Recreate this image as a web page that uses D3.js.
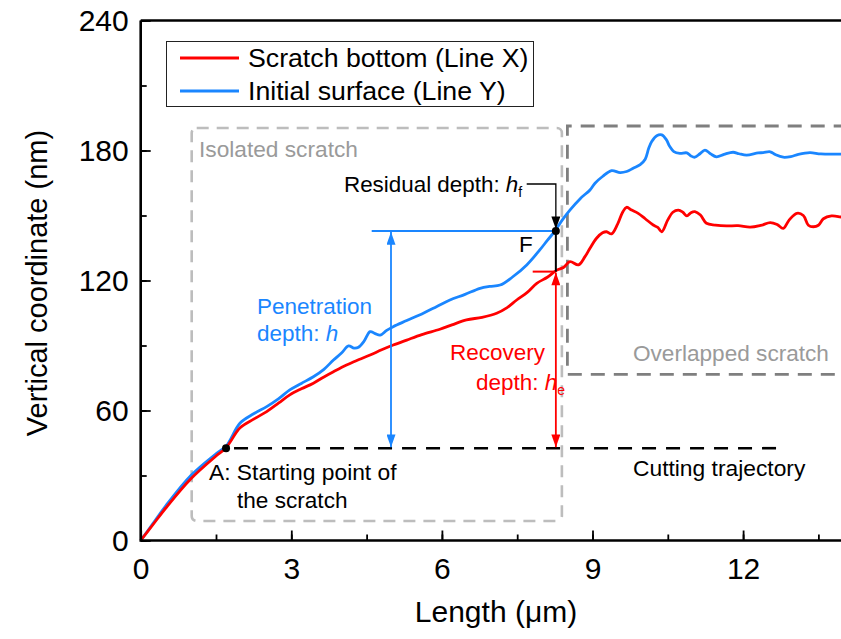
<!DOCTYPE html>
<html><head><meta charset="utf-8">
<script src="https://cdn.jsdelivr.net/npm/d3@7"></script>
<style>body{margin:0;background:#fff}svg{display:block;font-family:Arial,"Liberation Sans",sans-serif}</style>
</head><body><svg id="c" width="841" height="639"></svg>
<script>
// ---- data ----
const xTicks = [0, 3, 6, 9, 12];
const yTicks = [0, 60, 120, 180, 240];
const seriesNames = ["Scratch bottom (Line X)", "Initial surface (Line Y)"];
const seriesColors = ["#ff0000", "#1a86ff"];
const lineXx = [0,0.25,0.5,1.0,1.5,1.7,1.98,2.25,2.51,2.75,2.97,3.2,3.44,3.65,3.84,4.1,4.35,4.57,4.8,5.03,5.3,5.6,5.96,6.2,6.49,6.8,7.09,7.3,7.49,7.7,7.89,8.1,8.29,8.42,8.55,8.72,8.85,8.95,9.08,9.2,9.28,9.38,9.5,9.6,9.68,9.78,9.91,10.05,10.21,10.3,10.38,10.5,10.6,10.71,10.8,10.88,10.96,11.04,11.15,11.27,11.45,11.67,11.9,12.14,12.35,12.54,12.68,12.8,12.92,13.07,13.2,13.3,13.4,13.5,13.6,13.76,13.93,14.1];
const lineXy = [0,7.5,15,28.5,39,42.8,52,56,59.5,63.5,67.2,70,72.6,75.5,77.9,81,83.5,85.6,88,90.2,92.5,95,97.5,99.5,101.8,103,104.9,107.5,111,114.5,118.7,121.5,124.8,126,128.7,127.2,131,134.9,139.5,142,142.5,141.5,146,151.5,153.8,152.5,151,148.5,145.6,144.5,142.5,148,151.5,152.5,151.5,149.8,151.3,151.8,150.2,146.4,145.6,145.2,145.3,144.6,145.4,146.7,145.8,144.1,148,151,150,145.5,144.8,145.5,148.5,149.8,149.4,148.5];
const lineYx = [0,0.25,0.5,1.0,1.5,1.7,1.98,2.25,2.51,2.75,2.97,3.2,3.44,3.65,3.84,4.0,4.14,4.25,4.34,4.45,4.57,4.67,4.77,4.9,5.03,5.3,5.63,5.9,6.16,6.45,6.76,6.95,7.16,7.4,7.69,7.95,8.1,8.25,8.4,8.55,8.76,8.95,9.05,9.2,9.38,9.55,9.68,9.81,9.95,10.05,10.12,10.18,10.28,10.38,10.47,10.54,10.62,10.74,10.88,10.96,11.04,11.14,11.24,11.35,11.47,11.62,11.8,11.92,12.07,12.3,12.4,12.54,12.65,12.8,12.95,13.1,13.33,13.55,13.93,14.1];
const lineYy = [0,8,16,30,40,43.5,54.2,58.5,61.8,65.5,69.5,72.5,75.6,79,83.3,86.5,89.8,88.8,89.2,92,96.4,95.5,94.8,97,98.7,101.5,104.9,108,111,113.5,116.4,117.3,117.9,121.5,127.2,134.1,138.5,142.8,148,152.5,157.9,161.8,164.9,168,170.7,169.8,170.3,171.8,173.5,176,181,184.1,186.8,187.2,185,181.8,179.5,178.7,178.9,177.5,176.9,178.5,180.2,178.5,177.1,178.2,179.2,178.5,177.9,178.9,179,179.4,178,176.9,177.2,178.2,179,178.4,178.3,178.2];
// annotation anchors (data units)
const pointA = [1.7, 42.6];
const pointF = [8.27, 142.8];
const recoveryLevel = 124.1;
const cutEndX = 12.69;

const svg = d3.select("#c");
const x = d3.scaleLinear().domain([0, 14]).range([140.7, 843.5]);
const y = d3.scaleLinear().domain([0, 240]).range([540.5, 20.5]);
const FONT = "Arial, 'Liberation Sans', sans-serif";

// arrowhead markers
const defs = svg.append("defs");
[["mb", seriesColors[1]], ["mr", seriesColors[0]], ["mk", "#000"]].forEach(([id, c]) => {
  defs.append("marker").attr("id", id).attr("viewBox","0 0 14 10").attr("refX",14).attr("refY",5)
    .attr("markerWidth",15).attr("markerHeight",9).attr("markerUnits","userSpaceOnUse").attr("orient","auto-start-reverse")
    .append("path").attr("d","M0,0 L14,5 L0,10 Z").attr("fill",c);
});

// boxes
svg.append("rect").attr("x", x(1.016)).attr("y", y(190.4)).attr("width", x(8.39)-x(1.016)).attr("height", y(9)-y(190.4))
  .attr("rx",5).attr("fill","none").attr("stroke","#bdbdbd").attr("stroke-width",2.6).attr("stroke-dasharray","12,8");
svg.append("path").attr("d", `M${x(15)},${y(191.3)} H${x(8.5)} V${y(76.7)} H${x(15)}`)
  .attr("fill","none").attr("stroke","#7f7f7f").attr("stroke-width",2.8).attr("stroke-dasharray","14,9");
svg.append("text").attr("x",199).attr("y",157).attr("font-size",22.7).attr("fill","#9a9a9a").text("Isolated scratch");
svg.append("text").attr("x",633).attr("y",361).attr("font-size",22.6).attr("fill","#9a9a9a").text("Overlapped scratch");

// cutting trajectory
svg.append("line").attr("x1",x(pointA[0])).attr("x2",x(cutEndX)).attr("y1",y(pointA[1])).attr("y2",y(pointA[1]))
  .attr("stroke","#000").attr("stroke-width",2.6).attr("stroke-dasharray","14,10").attr("stroke-dashoffset",-8);
svg.append("text").attr("x",633).attr("y",476).attr("font-size",22.8).attr("fill","#000").text("Cutting trajectory");

// series lines
const line = d3.line().x(d=>x(d[0])).y(d=>y(d[1])).curve(d3.curveCatmullRom.alpha(0.5));
const dX = lineXx.map((v,i)=>[v, lineXy[i]]);
const dY = lineYx.map((v,i)=>[v, lineYy[i]]);
svg.append("path").datum(dY).attr("d",line).attr("fill","none").attr("stroke",seriesColors[1]).attr("stroke-width",2.8);
svg.append("path").datum(dX).attr("d",line).attr("fill","none").attr("stroke",seriesColors[0]).attr("stroke-width",2.8);

// penetration depth annotation
svg.append("line").attr("x1",371.7).attr("x2",x(pointF[0])).attr("y1",y(pointF[1])).attr("y2",y(pointF[1]))
  .attr("stroke",seriesColors[1]).attr("stroke-width",2);
svg.append("line").attr("x1",391).attr("x2",391).attr("y1",y(pointF[1])+1).attr("y2",y(pointA[1])-1)
  .attr("stroke",seriesColors[1]).attr("stroke-width",1.8).attr("marker-start","url(#mb)").attr("marker-end","url(#mb)");
const tp = svg.append("g").attr("fill",seriesColors[1]).attr("font-size",22.5);
tp.append("text").attr("x",257).attr("y",314).text("Penetration");
const tp2 = tp.append("text").attr("x",257).attr("y",341);
tp2.append("tspan").text("depth: ");
tp2.append("tspan").attr("font-style","italic").text("h");

// recovery depth annotation
svg.append("line").attr("x1",532.7).attr("x2",x(pointF[0])).attr("y1",y(recoveryLevel)).attr("y2",y(recoveryLevel))
  .attr("stroke",seriesColors[0]).attr("stroke-width",2);
svg.append("line").attr("x1",x(pointF[0])).attr("x2",x(pointF[0])).attr("y1",y(recoveryLevel)+1).attr("y2",y(pointA[1])-1)
  .attr("stroke",seriesColors[0]).attr("stroke-width",1.8).attr("marker-start","url(#mr)").attr("marker-end","url(#mr)");
const tr = svg.append("g").attr("fill",seriesColors[0]).attr("font-size",22.5);
tr.append("text").attr("x",450).attr("y",360).text("Recovery");
const tr2 = tr.append("text").attr("x",476).attr("y",390);
tr2.append("tspan").text("depth: ");
tr2.append("tspan").attr("font-style","italic").text("h");
tr2.append("tspan").attr("font-size",14).attr("dy",5).text("e");

// residual depth
svg.append("line").attr("x1",x(pointF[0])).attr("x2",x(pointF[0])).attr("y1",y(pointF[1])).attr("y2",y(recoveryLevel))
  .attr("stroke","#000").attr("stroke-width",2);
svg.append("path").attr("d",`M526.7,184 H${x(pointF[0])} V${y(pointF[1])-2}`).attr("fill","none")
  .attr("stroke","#000").attr("stroke-width",1.3).attr("marker-end","url(#mk)");
const rt = svg.append("text").attr("x",344).attr("y",192).attr("font-size",22.4).attr("fill","#000");
rt.append("tspan").text("Residual depth: ");
rt.append("tspan").attr("font-style","italic").text("h");
rt.append("tspan").attr("font-size",14).attr("dy",5).text("f");
svg.append("text").attr("x",519).attr("y",252).attr("font-size",22.5).text("F");

// points A and F
svg.append("circle").attr("cx",x(pointA[0])).attr("cy",y(pointA[1])).attr("r",4).attr("fill","#000");
svg.append("circle").attr("cx",x(pointF[0])).attr("cy",y(pointF[1])).attr("r",4).attr("fill","#000");
svg.append("text").attr("x",209).attr("y",480).attr("font-size",22.8).text("A: Starting point of");
svg.append("text").attr("x",237).attr("y",508).attr("font-size",22.6).text("the scratch");

// axes
const xAxisG = svg.append("g").attr("transform",`translate(0,${y(0)})`);
xAxisG.call(d3.axisTop(x).tickValues(d3.range(0,15,1.5)).tickSize(6).tickFormat(""));
xAxisG.append("g").call(d3.axisTop(x).tickValues(xTicks).tickSize(10).tickFormat(""));
xAxisG.selectAll(".domain").remove();
xAxisG.selectAll("line").attr("stroke","#000").attr("stroke-width",1.8);
svg.append("g").attr("transform",`translate(0,${y(0)})`).call(d3.axisBottom(x).tickValues(xTicks).tickSize(0).tickPadding(17).tickFormat(d3.format("d")))
  .call(g=>{g.select(".domain").remove(); g.selectAll("text").attr("font-size",30).attr("font-family",FONT).attr("fill","#000");});

const yAxisG = svg.append("g").attr("transform",`translate(${x(0)},0)`);
yAxisG.call(d3.axisRight(y).tickValues(d3.range(0,241,30)).tickSize(6).tickFormat(""));
yAxisG.append("g").call(d3.axisRight(y).tickValues(yTicks).tickSize(10).tickFormat(""));
yAxisG.selectAll(".domain").remove();
yAxisG.selectAll("line").attr("stroke","#000").attr("stroke-width",1.8);
svg.append("g").attr("transform",`translate(${x(0)},0)`).call(d3.axisLeft(y).tickValues(yTicks).tickSize(0).tickPadding(12))
  .call(g=>{g.select(".domain").remove(); g.selectAll("text").attr("font-size",30).attr("font-family",FONT).attr("fill","#000");});

// frame lines
svg.append("path").attr("d",`M${x(0)},${y(240)} V${y(0)} H841`).attr("fill","none").attr("stroke","#000").attr("stroke-width",2.6);
svg.append("line").attr("x1",x(0)).attr("x2",841).attr("y1",y(240)).attr("y2",y(240)).attr("stroke","#000").attr("stroke-width",2.6);

// axis titles
svg.append("text").attr("x",496).attr("y",622).attr("text-anchor","middle").attr("font-size",30).text("Length (μm)");
svg.append("text").attr("transform","translate(47,283) rotate(-90)").attr("text-anchor","middle").attr("font-size",29).text("Vertical coordinate (nm)");

// legend
const lg = svg.append("g");
lg.append("rect").attr("x",166.5).attr("y",41.5).attr("width",367).attr("height",65).attr("fill","#fff").attr("stroke","#222").attr("stroke-width",1);
seriesNames.forEach((n,i)=>{
  const yy = 58 + i*33;
  lg.append("line").attr("x1",180).attr("x2",239).attr("y1",yy).attr("y2",yy).attr("stroke",seriesColors[i]).attr("stroke-width",2.8);
  lg.append("text").attr("x",248).attr("y",yy+9).attr("font-size",26.7).text(n);
});
</script></body></html>
